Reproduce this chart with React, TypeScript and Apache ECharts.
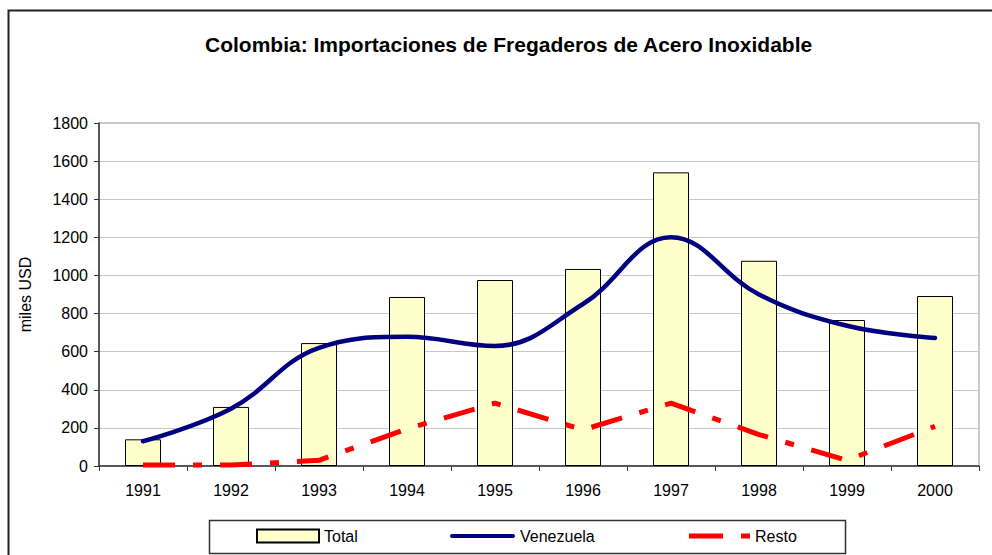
import React, { useEffect, useRef } from "react";
import * as echarts from "echarts";

const years = ["1991", "1992", "1993", "1994", "1995", "1996", "1997", "1998", "1999", "2000"];
const total = [140, 310, 645, 887, 976, 1034, 1541, 1077, 766, 892];
const venezuela = [130, 300, 620, 678, 630, 850, 1200, 900, 736, 672];
const resto = [5, 5, 30, 195, 330, 190, 330, 165, 30, 208];

const FONT = "Liberation Sans, Arial, sans-serif";

export default function App() {
  const ref = useRef<HTMLDivElement>(null);
  useEffect(() => {
    if (!ref.current) return;
    const chart = echarts.init(ref.current, undefined, { renderer: "svg" });
    const legendText = { fontFamily: FONT, fontSize: 16, color: "#000" };
    chart.setOption({
      animation: false,
      backgroundColor: "#fff",
      textStyle: { fontFamily: FONT },
      title: {
        text: "Colombia: Importaciones de Fregaderos de Acero Inoxidable",
        left: 200,
        top: 29,
        textStyle: { fontFamily: FONT, fontSize: 21, fontWeight: "bold", color: "#000" },
      },
      grid: {
        left: 99,
        right: 13,
        top: 123,
        bottom: 89,
        show: true,
        borderColor: "#909090",
        borderWidth: 1,
      },
      graphic: [
        {
          type: "rect",
          shape: { x: 8.5, y: 10.5, width: 1000, height: 600 },
          style: { fill: "none", stroke: "#222", lineWidth: 2 },
          silent: true,
        },
        {
          type: "rect",
          shape: { x: 209.5, y: 520.5, width: 636, height: 33 },
          style: { fill: "#fff", stroke: "#333", lineWidth: 1.5 },
          silent: true,
          z: 0,
        },
      ],
      legend: [
        {
          data: ["Total"],
          left: 256,
          top: 528,
          itemWidth: 62,
          itemHeight: 13,
          padding: 0,
          itemGap: 4,
          textStyle: legendText,
          icon: "rect",
        },
        {
          data: ["Venezuela"],
          left: 450,
          top: 528,
          itemWidth: 65,
          itemHeight: 4,
          padding: 0,
          textStyle: legendText,
          icon: "path://M2,0H63A2,2 0 0 1 63,4H2A2,2 0 0 1 2,0Z",
        },
        {
          data: ["Resto"],
          left: 689,
          top: 528,
          itemWidth: 61,
          itemHeight: 5,
          padding: 0,
          textStyle: legendText,
          icon: "path://M0,0H34V5H0Z M52,0H61V5H52Z",
        },
      ],
      xAxis: {
        type: "category",
        data: years,
        boundaryGap: true,
        axisLine: { lineStyle: { color: "#333", width: 1.5 } },
        axisTick: { show: true, alignWithLabel: false, length: 5, lineStyle: { color: "#333" } },
        axisLabel: { fontFamily: FONT, fontSize: 16, color: "#000", margin: 16 },
        splitLine: { show: false },
      },
      yAxis: {
        type: "value",
        min: 0,
        max: 1800,
        interval: 200,
        name: "miles USD",
        nameLocation: "middle",
        nameGap: 66,
        nameRotate: 90,
        nameTextStyle: { fontFamily: FONT, fontSize: 16, color: "#000" },
        axisLine: { show: true, lineStyle: { color: "#333", width: 1.5 } },
        axisTick: { show: true, length: 5, lineStyle: { color: "#333" } },
        axisLabel: {
          fontFamily: FONT,
          fontSize: 16,
          color: "#000",
          margin: 11,
          formatter: (v: number) => String(v),
        },
        splitLine: { show: true, lineStyle: { color: "#c8c8c8", width: 1 } },
      },
      series: [
        {
          name: "Total",
          type: "bar",
          data: total,
          barWidth: 36,
          itemStyle: { color: "#FFFFCC", borderColor: "#000", borderWidth: 1 },
          z: 2,
        },
        {
          name: "Venezuela",
          type: "line",
          data: venezuela,
          smooth: 0.4,
          symbol: "none",
          lineStyle: { color: "#000080", width: 4.5, cap: "round" },
          itemStyle: { color: "#000080" },
          z: 3,
        },
        {
          name: "Resto",
          type: "line",
          data: resto,
          smooth: false,
          symbol: "none",
          lineStyle: { color: "#FF0000", width: 5, type: [32, 18, 9, 18], cap: "butt" },
          itemStyle: { color: "#FF0000" },
          z: 4,
        },
      ],
    });
    return () => chart.dispose();
  }, []);
  return (
    <div
      ref={ref}
      style={{ position: "fixed", left: 0, top: 0, width: 992, height: 555 }}
    />
  );
}
